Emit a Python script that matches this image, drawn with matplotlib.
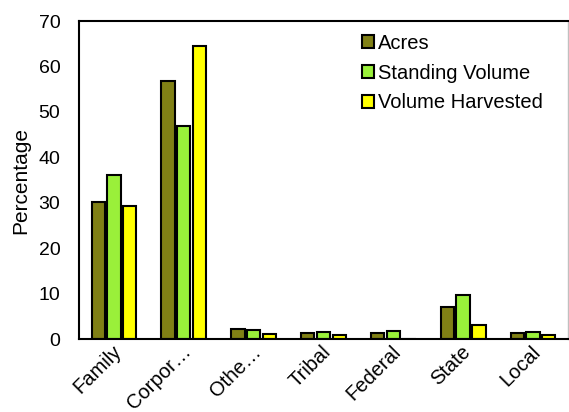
import numpy as np
import matplotlib.pyplot as plt
from matplotlib.transforms import ScaledTranslation

plt.rcParams['font.family'] = ['Liberation Sans', 'DejaVu Sans']

categories = ['Family', 'Corpor…', 'Othe…', 'Tribal', 'Federal', 'State', 'Local']
acres = [30.1, 56.8, 2.2, 1.4, 1.4, 7.0, 1.3]
standing_volume = [36.1, 47.0, 2.1, 1.6, 1.8, 9.8, 1.5]
volume_harvested = [29.3, 64.6, 1.1, 1.0, 0.0, 3.1, 1.0]

fig = plt.figure(figsize=(5.69, 4.12), dpi=100)
ax = fig.add_axes([0.139, 0.177, 0.859, 0.772])

x = np.arange(len(categories))
w = 0.19
gap = 0.226
series = [(acres, '#808015', 'Acres'),
          (standing_volume, '#9af03a', 'Standing Volume'),
          (volume_harvested, '#ffff00', 'Volume Harvested')]
for i, (vals, col, lab) in enumerate(series):
    ax.bar(x + (i - 1) * gap, vals, width=w, color=col, edgecolor='black',
           linewidth=1.5, label=lab)

ax.set_xlim(-0.5, len(categories) - 0.5)
ax.set_ylim(0, 70)
ax.set_yticks(range(0, 71, 10))
ax.tick_params(axis='y', length=0, labelsize=14, pad=13.5)
ax.tick_params(axis='x', length=0, labelsize=14.5, pad=2)
ax.set_xticks(x)
ax.set_xticklabels(categories, rotation=45, ha='right', rotation_mode='anchor')
offset = ScaledTranslation(-0.02, 0, fig.dpi_scale_trans)
for lbl in ax.get_xticklabels():
    lbl.set_transform(lbl.get_transform() + offset)
ax.set_ylabel('Percentage', fontsize=15)
ax.yaxis.set_label_coords(-0.100, 0.5)

for s in ['left', 'top', 'bottom']:
    ax.spines[s].set_linewidth(1.5)
ax.spines['right'].set_color('#c0c0c0')
ax.spines['right'].set_linewidth(1.0)

ax.legend(loc='upper left', bbox_to_anchor=(0.579, 0.96), frameon=False,
          fontsize=14.5, handlelength=0.6, handleheight=0.6, handletextpad=0.2,
          labelspacing=0.54, borderaxespad=0, borderpad=0)

fig.savefig('out.png', dpi=100)
